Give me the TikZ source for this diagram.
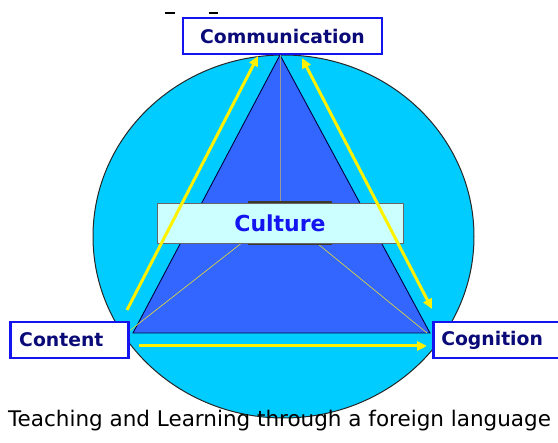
\documentclass[tikz,border=0pt]{standalone}
\usepackage{fontspec}
\setmainfont{DejaVu Sans}
\usetikzlibrary{arrows.meta}
\definecolor{sky}{HTML}{00CCFF}
\definecolor{tri}{HTML}{3366FF}
\definecolor{navy}{HTML}{0A0A78}
\definecolor{boxblue}{HTML}{1414F0}
\definecolor{pale}{HTML}{CCFFFF}
\tikzset{
  labelbox/.style={draw=boxblue, line width=2.5pt, fill=white, text=navy, font=\bfseries\fontsize{18.8}{22}\selectfont, minimum height=36pt, inner ysep=0pt},
  yarrow/.style={draw=yellow, line width=3pt, -{Triangle[length=10pt,width=9pt]}},
  thinline/.style={line width=0.6pt},
}

\begin{document}
\begin{tikzpicture}[x=1pt,y=-1pt]
			%%%%% START %%%%%
			\useasboundingbox (0,0) rectangle (558,443);
			\clip (0,0) rectangle (558,443);
			
			\draw[fill=sky, draw=black!85, line width=1pt] (283.5,236.5) ellipse [x radius=190.5pt, y radius=181.5pt];
			
			\coordinate (apex) at (280,55);
			\coordinate (lc) at (133,333);
			\coordinate (rc) at (430,333);
			\coordinate (hub) at (280,213);
			\draw[fill=tri, draw=black!75!blue, line width=0.9pt] (apex) -- (lc) -- (rc) -- cycle;
			
			\draw[thinline, color=gray!80] (apex) -- (hub);
			\draw[thinline, color=yellow!80!gray] (hub) -- (128,332);
			\draw[thinline, color=yellow!80!gray] (hub) -- (427,333);
			
			\fill[black!75!olive] (248,201) rectangle (332,245);
			\node[draw=black!60, fill=pale, line width=0.8pt, minimum width=246pt, minimum height=40pt, text=boxblue, font=\bfseries\fontsize{22}{26}\selectfont] (culture) at (280,223) {Culture};
			
			\coordinate (l1) at (127,310);
			\coordinate (l2) at (258,56);
			\coordinate (r1) at (302,58);
			\coordinate (r2) at (432,309);
			\coordinate (b1) at (139,346);
			\coordinate (b2) at (427,346);
			\draw[yarrow] (l1) -- (l2);
			\draw[yarrow, {Triangle[length=10pt,width=9pt]}-{Triangle[length=10pt,width=9pt]}] (r1) -- (r2);
			\draw[yarrow] (b1) -- (b2);
			
			\node[labelbox, minimum width=199pt] (communication) at (282.5,36) {Communication};
			\node[labelbox, anchor=west, minimum width=118pt, text width=100pt, inner xsep=9pt, align=left] (content) at (9,340) {Content};
			\node[labelbox, anchor=west, minimum width=140pt, text width=124pt, inner xsep=8pt, align=left] (cognition) at (432,340) {Cognition};
			
			\draw[line width=1.5pt] (165,13) -- (175,13);
			\draw[line width=1.5pt] (209,13) -- (218,13);
			
			\node[anchor=base west, inner sep=0pt, font=\fontsize{21.5}{25}\selectfont] (caption) at (8,427) {Teaching and Learning through a foreign language};
			%%%%% END %%%%%
\end{tikzpicture}
\end{document}
